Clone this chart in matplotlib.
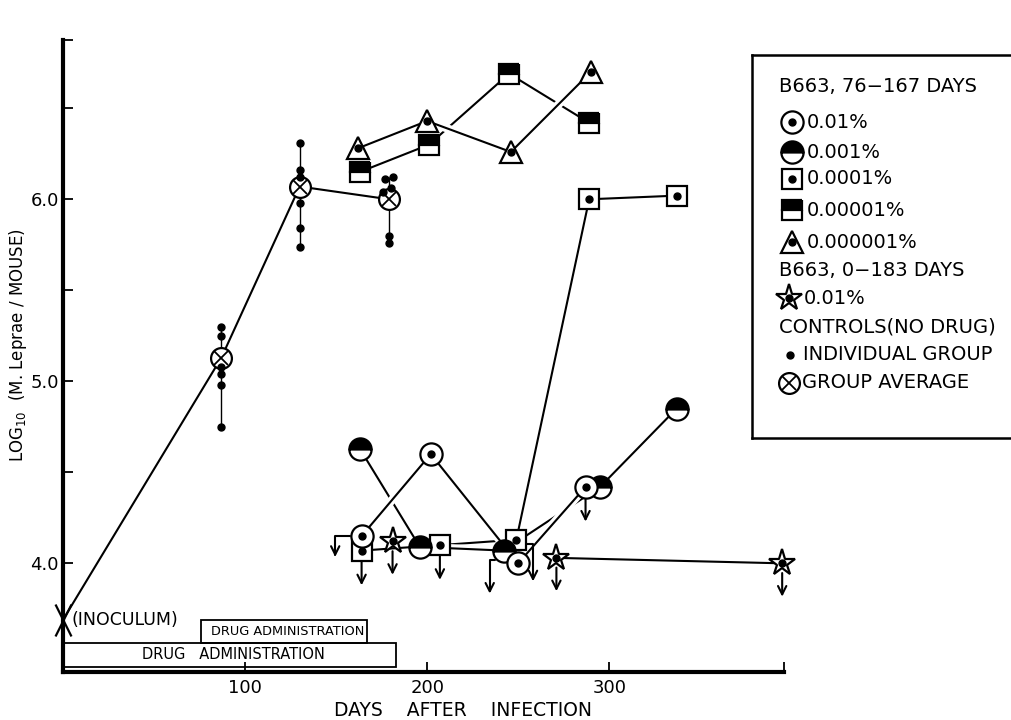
import matplotlib
matplotlib.use("Agg")
import matplotlib.pyplot as plt
import matplotlib.patheffects as pe
from matplotlib.path import Path
from matplotlib.patches import Rectangle
from matplotlib.transforms import ScaledTranslation

plt.rcParams['font.family'] = ['DejaVu Sans']

# controls (no drug)
inoc_day = 0
inoc_val = 3.69
ctrl_days = [87, 130, 179]
ctrl_avg = [5.13, 6.07, 6.00]
ind_87 = [5.30, 5.25, 5.08, 5.04, 4.98, 4.75]
ind_130 = [6.31, 6.16, 6.12, 5.98, 5.84, 5.74]
ind_179_days = [177, 181, 176, 180, 179, 179]
ind_179 = [6.11, 6.12, 6.04, 6.06, 5.80, 5.76]

# B663, 76-167 days
c01_days = [164, 202, 250, 287]
c01_vals = [4.15, 4.60, 4.00, 4.42]
c001_days = [163, 196, 242, 295, 337]
c001_vals = [4.63, 4.09, 4.07, 4.42, 4.85]
c0001_days = [164, 207, 249, 289, 337]
c0001_vals = [4.07, 4.10, 4.13, 6.00, 6.02]
c00001_days = [163, 201, 245, 289]
c00001_vals = [6.15, 6.30, 6.69, 6.42]
c000001_days = [162, 200, 246, 290]
c000001_vals = [6.28, 6.43, 6.26, 6.70]

# B663, 0-183 days
star_days = [181, 271, 395]
star_vals = [4.12, 4.03, 4.00]

drug_periods = [(76, 167), (0, 183)]
drug_labels = ['DRUG ADMINISTRATION', 'DRUG   ADMINISTRATION']

W, H = 1012, 720
fig = plt.figure(figsize=(W / 100, H / 100), dpi=100)
ax = fig.add_axes([63 / W, 48 / H, 721 / W, 632 / H])
ax.set_xlim(0, 396)
ax.set_ylim(3.403, 6.875)
ax.spines['top'].set_visible(False)
ax.spines['right'].set_visible(False)
ax.spines['left'].set_linewidth(3)
ax.spines['bottom'].set_linewidth(3)
ax.set_xticks([100, 200, 300])
ax.set_xticks([396], minor=True)
ax.set_yticks([4, 5, 6])
ax.set_yticklabels(['4.0', '5.0', '6.0'])
ax.set_yticks([4.5, 5.5, 6.5, 6.875], minor=True)
ax.tick_params(which='both', direction='in', length=7, width=1.3, labelsize=13)
ax.tick_params(axis='x', pad=5)
ax.tick_params(axis='y', pad=3)

K = 'black'


def draw_marks(a, x, y, kind):
    kw = dict(ls='none', mec=K, mew=1.6, clip_on=False, zorder=5)
    if kind == 'circle_dot':
        a.plot(x, y, marker='o', ms=16, mfc='white', **kw)
    elif kind == 'half_circle':
        a.plot(x, y, marker='o', ms=16, fillstyle='top', mfc=K, mfcalt='white', **kw)
    elif kind == 'square_dot':
        a.plot(x, y, marker='s', ms=14, mfc='white', **kw)
    elif kind == 'half_square':
        a.plot(x, y, marker='s', ms=14, fillstyle='top', mfc=K, mfcalt='white', **kw)
    elif kind == 'triangle_dot':
        a.plot(x, y, marker='^', ms=16, mfc='white', **kw)
    elif kind == 'star_dot':
        a.plot(x, y, marker='*', ms=20, mfc='white', **kw)
    elif kind == 'avg':
        a.plot(x, y, marker='o', ms=15, mfc='white', **kw)
        a.plot(x, y, marker='x', ms=10, mec=K, mew=1.3, ls='none', clip_on=False, zorder=6)
    elif kind == 'point':
        a.plot(x, y, marker='o', ms=5, color=K, ls='none', clip_on=False, zorder=6)
    if kind.endswith('_dot'):
        a.plot(x, y, marker='o', ms=5, color=K, ls='none', clip_on=False, zorder=6)


halo = [pe.Stroke(linewidth=6, foreground='white'), pe.Normal()]
line_kw = dict(color=K, lw=1.5, zorder=3, path_effects=halo)

# controls
ax.plot([inoc_day] + ctrl_days, [inoc_val] + ctrl_avg, color=K, lw=1.5, zorder=3)
for d, vals in zip(ctrl_days, [ind_87, ind_130, ind_179]):
    ax.vlines(d, min(vals), max(vals), color=K, lw=1, zorder=2)
draw_marks(ax, [ctrl_days[0]] * len(ind_87), ind_87, 'point')
draw_marks(ax, [ctrl_days[1]] * len(ind_130), ind_130, 'point')
draw_marks(ax, ind_179_days, ind_179, 'point')
draw_marks(ax, ctrl_days, ctrl_avg, 'avg')

x_mark = Path([(-0.5, -1), (0.5, 1), (-0.5, 1), (0.5, -1)],
              [Path.MOVETO, Path.LINETO, Path.MOVETO, Path.LINETO])
ax.plot(inoc_day, inoc_val, marker=x_mark, ms=23, mew=1.6, color=K, ls='none', clip_on=False, zorder=6)
ax.annotate('(INOCULUM)', (inoc_day, inoc_val), xytext=(6, 0), textcoords='offset points',
            va='center', ha='left', fontsize=12.5)

# treatment lines (drawn in order so later ones break earlier ones)
ax.plot(c0001_days, c0001_vals, **line_kw)
ax.plot(c001_days, c001_vals, **line_kw)
ax.plot(c01_days, c01_vals, **line_kw)
ax.plot(star_days[1:], star_vals[1:], **line_kw)
ax.plot(c00001_days, c00001_vals, **line_kw)
ax.plot(c000001_days, c000001_vals, **line_kw)

draw_marks(ax, c0001_days, c0001_vals, 'square_dot')
draw_marks(ax, star_days, star_vals, 'star_dot')
draw_marks(ax, c001_days, c001_vals, 'half_circle')
draw_marks(ax, c01_days, c01_vals, 'circle_dot')
draw_marks(ax, c00001_days, c00001_vals, 'half_square')
draw_marks(ax, c000001_days, c000001_vals, 'triangle_dot')


def offset(dx, dy):
    return ax.transData + ScaledTranslation(dx / 72, dy / 72, fig.dpi_scale_trans)


def below_arrow(d, v, start, end, style='arc3,rad=0'):
    ax.annotate('', xy=(d, v), xycoords=offset(*end), xytext=(d, v), textcoords=offset(*start),
                annotation_clip=False,
                arrowprops=dict(arrowstyle='->,head_length=0.6,head_width=0.3', lw=1.5, color=K,
                                connectionstyle=style, shrinkA=0, shrinkB=0), zorder=4)


# "below detection" arrows
hook = 'angle,angleA=0,angleB=90,rad=0'
below_arrow(c0001_days[0], c0001_vals[0], (0, -8), (0, -25))
below_arrow(c0001_days[1], c0001_vals[1], (0, -8), (0, -25))
below_arrow(c0001_days[2], c0001_vals[2], (7, -3), (12, -30), hook)
below_arrow(c01_days[0], c01_vals[0], (-8, 0), (-19, -15), hook)
below_arrow(c01_days[3], c01_vals[3], (0, -9), (0, -25))
below_arrow(c001_days[2], c001_vals[2], (-6, -7), (-10, -31), hook)
for d, v in zip(star_days, star_vals):
    below_arrow(d, v, (0, -7), (0, -24))

# drug administration bars
bar_y = [(3.564, 3.69), (3.432, 3.564)]
bar_fs = [9.3, 10.5]
for (s, e), (y0, y1), lab, fs in zip(drug_periods, bar_y, drug_labels, bar_fs):
    ax.add_patch(Rectangle((s, y0), e - s, y1 - y0, fill=False, ec=K, lw=1.3, clip_on=False, zorder=2))
    ax.text((s + e) / 2 + 2, (y0 + y1) / 2, lab, ha='center', va='center', fontsize=fs)

fig.text(463 / W, 1 - 710 / H, 'DAYS    AFTER    INFECTION', ha='center', va='center', fontsize=13.5)
fig.text(18 / W, 1 - 345 / H, 'LOG$_{10}$  (M. Leprae / MOUSE)', rotation=90,
         ha='center', va='center', fontsize=12)

# legend box
lg = fig.add_axes([752 / W, (H - 438) / H, 262 / W, 383 / H])
lg.set_xlim(752, 1014)
lg.set_ylim(438, 55)
lg.set_xticks([])
lg.set_yticks([])
lg.patch.set_alpha(0)
lg.spines['right'].set_visible(False)
for s in ['left', 'top', 'bottom']:
    lg.spines[s].set_linewidth(1.8)

lg.text(779, 87, 'B663, 76\u2212167 DAYS', va='center', fontsize=14)
leg_items = [('circle_dot', '0.01%', 122), ('half_circle', '0.001%', 152),
             ('square_dot', '0.0001%', 179), ('half_square', '0.00001%', 210),
             ('triangle_dot', '0.000001%', 242)]
for kind, lab, yy in leg_items:
    draw_marks(lg, [792], [yy], kind)
    lg.text(807, yy, lab, va='center', fontsize=14)
lg.text(779, 270, 'B663, 0\u2212183 DAYS', va='center', fontsize=14)
draw_marks(lg, [789], [298], 'star_dot')
lg.text(804, 298, '0.01%', va='center', fontsize=14)
lg.text(779, 327, 'CONTROLS(NO DRUG)', va='center', fontsize=14)
draw_marks(lg, [790], [355], 'point')
lg.text(803, 355, 'INDIVIDUAL GROUP', va='center', fontsize=14)
draw_marks(lg, [789], [383], 'avg')
lg.text(802, 383, 'GROUP AVERAGE', va='center', fontsize=14)

fig.savefig('out.png', dpi=100)
